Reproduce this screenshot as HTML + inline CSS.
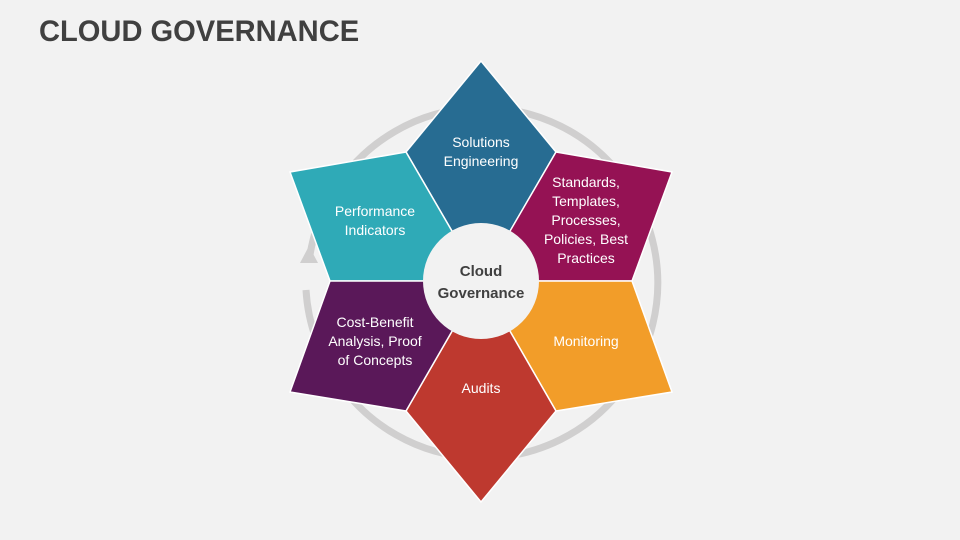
<!DOCTYPE html>
<html><head><meta charset="utf-8"><style>
body{margin:0;width:960px;height:540px;background:#f2f2f2;overflow:hidden;font-family:"Liberation Sans",sans-serif}
h1{position:absolute;left:39px;top:15px;margin:0;font-size:30px;font-weight:bold;color:#404040;transform:scaleX(0.97);transform-origin:0 0;white-space:nowrap}
svg{position:absolute;left:0;top:0}
</style></head><body>
<h1>CLOUD GOVERNANCE</h1>
<svg width="960" height="540" viewBox="0 0 960 540">
<path d="M 309 262 A 175 175 0 1 1 340 384" fill="none" stroke="#d0cfcf" stroke-width="7"/>
<path d="M 340 384 A 175 175 0 0 1 306 290" fill="none" stroke="#d0cfcf" stroke-width="7"/>
<polygon points="309,246 300,263 318,263" fill="#d0cfcf"/>
<g stroke="#ffffff" stroke-width="1.5" stroke-linejoin="miter">
<polygon points="481,281 406,152 481,61 556,152" fill="#276c92"/>
<polygon points="481,281 406,152 290,172 330,281" fill="#2faab7"/>
<polygon points="481,281 556,152 672,172 632,281" fill="#951254"/>
<polygon points="481,281 632,281 672,392 556,411" fill="#f29d29"/>
<polygon points="481,281 556,411 481,502 406,411" fill="#be392f"/>
<polygon points="481,281 406,411 290,392 330,281" fill="#5a1859"/>
</g>
<circle cx="481" cy="281" r="58" fill="#f2f2f2"/>
<g font-family="Liberation Sans, sans-serif" font-size="14" fill="#fff" text-anchor="middle">
<text x="481" y="147">Solutions</text><text x="481" y="166">Engineering</text>
<text x="375" y="216">Performance</text><text x="375" y="235">Indicators</text>
<text x="586" y="187">Standards,</text><text x="586" y="206">Templates,</text><text x="586" y="225">Processes,</text><text x="586" y="244">Policies, Best</text><text x="586" y="263">Practices</text>
<text x="375" y="327">Cost-Benefit</text><text x="375" y="346">Analysis, Proof</text><text x="375" y="365">of Concepts</text>
<text x="586" y="346">Monitoring</text>
<text x="481" y="393">Audits</text>
</g>
<g font-family="Liberation Sans, sans-serif" font-size="15" font-weight="bold" fill="#404040" text-anchor="middle">
<text x="481" y="276">Cloud</text><text x="481" y="298">Governance</text>
</g>
</svg>
</body></html>
